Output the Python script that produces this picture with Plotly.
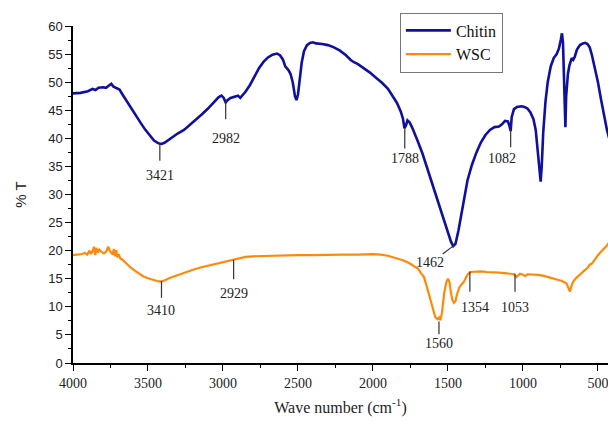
import plotly.graph_objects as go

# ---------------- data ----------------
chitin_wn = [4000, 3950, 3900, 3870, 3850, 3830, 3800, 3780, 3760, 3745, 3730, 3710, 3690, 3670,
             3640, 3610, 3580, 3550, 3520, 3490, 3460, 3430, 3410, 3390, 3360, 3330, 3300, 3260,
             3220, 3180, 3140, 3100, 3060, 3030, 3010, 2995, 2982, 2970, 2950, 2920, 2900, 2885,
             2870, 2850, 2820, 2790, 2760, 2730, 2700, 2670, 2640, 2620, 2600, 2585, 2565, 2550,
             2535, 2520, 2510, 2500, 2490, 2475, 2460, 2440, 2420, 2400, 2380, 2360, 2340, 2300,
             2260, 2220, 2180, 2150, 2130, 2100, 2060, 2020, 1980, 1940, 1900, 1870, 1840, 1815,
             1800, 1790, 1780, 1770, 1755, 1740, 1720, 1700, 1670, 1640, 1610, 1580, 1550, 1520,
             1500, 1480, 1465, 1450, 1430, 1410, 1390, 1370, 1340, 1310, 1280, 1250, 1220, 1190,
             1160, 1140, 1120, 1100, 1090, 1082, 1075, 1060, 1040, 1010, 990, 970, 950, 930, 915,
             900, 890, 882, 875, 865, 850, 835, 815, 795, 775, 760, 748, 740, 733, 727, 722, 717,
             712, 700, 690, 675, 665, 655, 640, 620, 600, 585, 570, 555, 540, 520, 500, 480, 460,
             440, 425]
chitin_t = [48.0, 48.1, 48.4, 48.8, 48.6, 49.0, 49.1, 49.0, 49.4, 49.7, 49.2, 49.0, 48.7, 47.8,
            46.5, 45.2, 44.0, 42.8, 41.6, 40.5, 39.6, 39.1, 39.0, 39.2, 39.8, 40.4, 40.9, 41.5,
            42.4, 43.3, 44.3, 45.3, 46.4, 47.3, 47.6, 47.2, 46.4, 46.8, 47.2, 47.5, 47.6, 47.2,
            47.6, 48.3, 49.5, 51.0, 52.5, 53.6, 54.4, 54.9, 55.1, 54.8, 54.0, 52.8, 52.2, 51.5,
            50.0, 47.5, 46.8, 47.8, 50.5, 53.5, 55.5, 56.6, 57.0, 57.1, 56.9, 56.9, 56.8, 56.6,
            56.2, 55.6, 54.8, 54.0, 53.6, 53.2, 52.5, 51.7, 50.8, 49.9, 48.8, 47.6, 46.3, 44.8,
            43.5, 41.8, 42.3, 43.2, 42.8, 42.0, 40.8, 39.4, 37.3, 34.8, 32.2, 29.6, 27.0, 24.6,
            23.0, 21.6, 20.8, 21.2, 23.6, 26.8, 29.8, 32.5, 35.3, 37.5, 39.3, 40.6, 41.5, 42.0,
            42.1, 42.5, 43.1, 43.0, 42.2, 41.3, 43.8, 45.2, 45.6, 45.7, 45.6, 45.3, 44.6, 43.4, 41.5,
            37.5, 33.5, 32.3, 35.0, 41.0, 46.5, 50.0, 52.8, 54.3, 55.0, 56.0, 57.5, 58.7, 57.0,
            50.0, 42.5, 42.0, 47.5, 51.5, 53.0, 54.3, 54.0, 54.5, 55.8, 56.6, 56.9, 57.0, 56.8,
            56.2, 54.8, 52.5, 50.0, 47.0, 44.0, 41.5, 40.0]

wsc_wn = [4000, 3970, 3940, 3920, 3905, 3890, 3880, 3870, 3860, 3852, 3845, 3835, 3825, 3810,
          3795, 3780, 3765, 3755, 3745, 3735, 3728, 3720, 3712, 3705, 3695, 3685, 3670, 3650,
          3620, 3590, 3560, 3530, 3500, 3470, 3440, 3415, 3390, 3360, 3320, 3280, 3240, 3200,
          3150, 3100, 3050, 3000, 2950, 2929, 2900, 2850, 2800, 2700, 2600, 2500, 2400, 2300,
          2200, 2100, 2000, 1950, 1900, 1850, 1800, 1760, 1720, 1700, 1680, 1660, 1640, 1620,
          1600, 1585, 1570, 1560, 1550, 1540, 1525, 1510, 1500, 1490, 1480, 1470, 1460, 1450,
          1440, 1425, 1410, 1395, 1380, 1365, 1350, 1320, 1280, 1240, 1200, 1160, 1120, 1080,
          1060, 1045, 1035, 1020, 1000, 985, 970, 940, 900, 860, 820, 780, 740, 710, 695, 687,
          678, 665, 650, 630, 610, 590, 570, 555, 540, 520, 500, 480, 460, 440, 425]
wsc_t = [19.2, 19.3, 19.4, 19.6, 19.3, 20.0, 19.4, 19.9, 20.7, 19.2, 20.5, 19.6, 20.2, 19.8,
         19.5, 19.8, 20.7, 20.0, 19.6, 19.3, 20.3, 19.0, 20.1, 18.8, 19.4, 18.6, 18.4, 17.8,
         17.1, 16.5, 15.9, 15.4, 15.1, 14.8, 14.6, 14.5, 14.7, 15.1, 15.5, 15.9, 16.3, 16.6,
         17.0, 17.3, 17.6, 17.9, 18.2, 18.3, 18.5, 18.9, 19.0, 19.1, 19.2, 19.2, 19.2, 19.3,
         19.3, 19.3, 19.4, 19.3, 19.1, 18.7, 18.3, 17.8, 17.2, 16.8, 16.0, 15.3, 13.5, 11.5,
         9.5, 8.2, 7.8, 8.1, 7.6, 9.0, 12.5, 14.5, 15.0, 14.4, 12.5, 11.2, 10.7, 11.0,
         12.2, 13.4, 14.0, 14.4, 15.2, 15.9, 16.2, 16.3, 16.3, 16.2, 16.2, 16.1, 16.0, 15.9,
         15.8, 15.3, 15.6, 15.9, 15.7, 15.5, 15.8, 15.8, 15.7, 15.5, 15.2, 14.9, 14.6, 14.2, 13.4, 12.7,
         13.6, 14.5, 15.0, 15.5, 16.1, 16.5, 16.9, 17.5, 17.7, 18.5, 19.2, 19.8, 20.3, 20.9, 21.5]

x_ticks = [4000, 3500, 3000, 2500, 2000, 1500, 1000, 500]
y_ticks = [0, 5, 10, 15, 20, 25, 30, 35, 40, 45, 50, 55, 60]

# peak labels
peak_labels = ["3421", "2982", "1788", "1082", "1462", "3410", "2929", "1560", "1354", "1053"]
peak_wn = [3421, 2982, 1788, 1082, 1462, 3410, 2929, 1560, 1354, 1053]

# label placement: (line y0, line y1, text x, text y)
placement = [
    (39.0, 36.0, 3421, 33.4),
    (46.6, 43.4, 2982, 40.0),
    (41.8, 38.2, 1788, 36.4),
    (41.6, 38.4, 1140, 36.4),
    (None, None, 1620, 17.9),
    (14.6, 11.6, 3410, 9.4),
    (18.4, 14.9, 2929, 12.4),
    (7.4, 5.1, 1560, 3.4),
    (16.3, 12.7, 1320, 9.8),
    (15.9, 12.7, 1053, 9.8),
]

serif = "Liberation Serif"
sans = "Liberation Sans"

fig = go.Figure()
fig.add_trace(go.Scatter(x=chitin_wn, y=chitin_t, mode="lines", name="Chitin",
                         line=dict(color="#10109e", width=2.6)))
fig.add_trace(go.Scatter(x=wsc_wn, y=wsc_t, mode="lines", name="WSC",
                         line=dict(color="#ff8a0a", width=2.2)))

for lab, wn, (y0, y1, tx, ty) in zip(peak_labels, peak_wn, placement):
    if y0 is not None:
        fig.add_shape(type="line", xref="x", yref="y", x0=wn, x1=wn, y0=y0, y1=y1,
                      line=dict(color="#333333", width=1.2))
    else:
        fig.add_shape(type="line", xref="x", yref="y", x0=1535, x1=wn, y0=19.4, y1=20.9,
                      line=dict(color="#333333", width=1.2))
    fig.add_annotation(x=tx, y=ty, xref="x", yref="y", text=lab, showarrow=False,
                       font=dict(family=serif, size=14, color="#222222"))

fig.update_layout(
    width=608, height=421,
    margin=dict(l=73, r=0, t=26, b=58),
    paper_bgcolor="white", plot_bgcolor="white",
    showlegend=True,
    legend=dict(x=0.611, y=1.04, xanchor="left", yanchor="top",
                bordercolor="#777777", borderwidth=1, bgcolor="white",
                font=dict(family=serif, size=16, color="#111111"),
                tracegroupgap=0, itemwidth=45),
    xaxis=dict(range=[4000, 433], tickvals=x_ticks, ticks="outside", ticklen=6,
               tickwidth=1.3, tickcolor="black", showline=True, linecolor="black",
               linewidth=1.5, showgrid=False, zeroline=False, ticklabeloverflow="allow",
               minor=dict(dtick=250, tick0=0, ticks="outside", ticklen=3, tickcolor="black",
                          showgrid=False),
               tickfont=dict(family=serif, size=14, color="#222222"),
               title=dict(text="Wave number (cm<sup>-1</sup>)", standoff=12,
                          font=dict(family=serif, size=16, color="#222222"))),
    yaxis=dict(range=[0, 60], tickvals=y_ticks, ticks="outside", ticklen=6,
               tickwidth=1.3, tickcolor="black", showline=True, linecolor="black",
               linewidth=1.5, showgrid=False, zeroline=False,
               minor=dict(dtick=2.5, tick0=0, ticks="outside", ticklen=3, tickcolor="black",
                          showgrid=False),
               tickfont=dict(family=sans, size=13, color="#222222"),
               title=dict(text="% T", standoff=18,
                          font=dict(family=sans, size=15, color="#222222"))),
)

fig.write_html("out.html")
